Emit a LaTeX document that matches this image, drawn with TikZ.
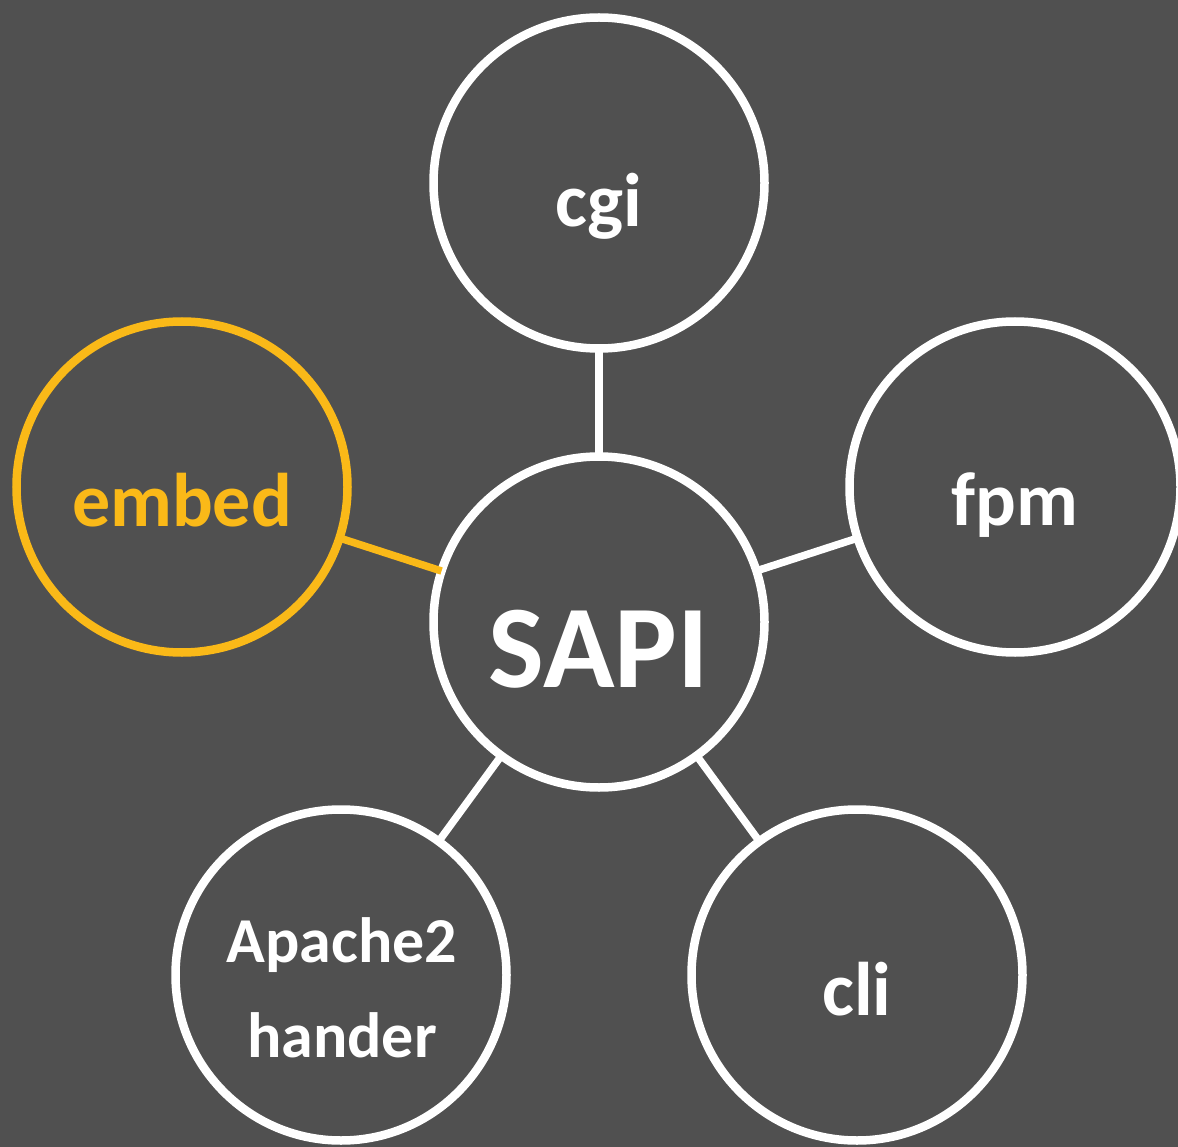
\documentclass[tikz,border=0pt]{standalone}
\usepackage{fontspec}
\setmainfont{Carlito}
\definecolor{bg}{RGB}{80,80,80}
\definecolor{gold}{RGB}{250,185,24}
\begin{document}
\begin{tikzpicture}[x=1pt,y=-1pt,
  ring/.style={circle,draw=white,line width=8.5pt,minimum size=331pt,inner sep=0pt,outer sep=0pt},
  goldring/.style={ring,draw=gold},
  link/.style={draw=white,line width=7.5pt},
  goldlink/.style={link,draw=gold},
  lbl/.style={text=white,font=\bfseries\fontsize{76}{90}\selectfont,anchor=base,inner sep=0pt},
  biglbl/.style={lbl,font=\bfseries\fontsize{118}{140}\selectfont},
  smalllbl/.style={lbl,font=\bfseries\fontsize{64}{90}\selectfont}]
\fill[bg] (0,0) rectangle (1178,1147);
\useasboundingbox (0,0) rectangle (1178,1147);
\node[ring] (sapi) at (599,622) {};
\node[ring] (cgi) at (599,183) {};
\node[ring] (fpm) at (1015,487) {};
\node[goldring] (embed) at (182,487) {};
\node[ring] (apache) at (341,975) {};
\node[ring] (cli) at (857,975) {};
\draw[link] (cgi) -- (sapi);
\draw[link] (fpm) -- (sapi);
\draw[goldlink] (embed) -- (sapi);
\draw[link] (apache) -- (sapi);
\draw[link] (cli) -- (sapi);
\node[biglbl] (tsapi) at (599,687) {SAPI};
\node[lbl] (tcgi) at (599,227) {cgi};
\node[lbl] (tfpm) at (1015,525) {fpm};
\node[lbl,text=gold] (tembed) at (182,526) {embed};
\node[smalllbl] (tapache) at (342,962) {Apache2};
\node[smalllbl] (thander) at (342,1057) {hander};
\node[lbl] (tcli) at (857,1015) {cli};
\end{tikzpicture}
\end{document}
